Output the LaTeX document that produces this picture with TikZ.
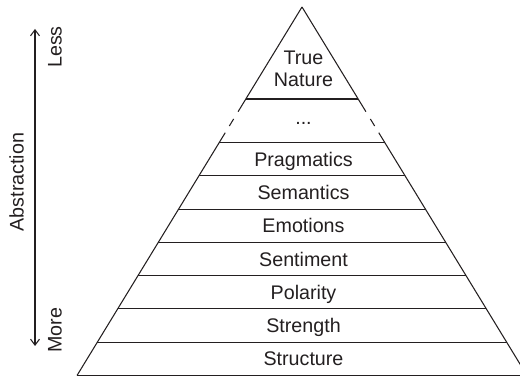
\documentclass[tikz,border=0pt]{standalone}
\usepackage{fontspec}
\setmainfont{Liberation Sans}
\usetikzlibrary{arrows.meta, calc}
\definecolor{inkBlack}{HTML}{231F20}
\def\apexY{7.40}
\def\baseY{0.03}
\def\topY{4.686}
\def\layerH{0.665}
\def\labelX{6.07}
\tikzset{
    edge/.style={draw=inkBlack, line width=0.6pt},
    layerText/.style={font=\fontsize{11.2}{12.5}\selectfont, text=inkBlack, align=center, inner sep=0pt},
    sideText/.style={layerText, rotate=90},
    axisArrow/.style={draw=inkBlack, line width=0.6pt, {Straight Barb[length=1.2mm,width=1.8mm]}-{Straight Barb[length=1.2mm,width=1.8mm]}}
}

\begin{document}
\begin{tikzpicture}
    \clip (0,0) rectangle (10.4,7.54);
    % Pyramid corners
    \coordinate (apex) at (6.04,\apexY);
    \coordinate (bl) at (1.54,\baseY);
    \coordinate (br) at (10.54,\baseY);

    % Sides, broken below the top block
    \foreach \corner in {bl, br} {
        \draw[edge] (apex) -- ($(apex)!0.2841!(\corner)$);
        \draw[edge] ($(apex)!0.3039!(\corner)$) -- ($(apex)!0.3229!(\corner)$);
        \draw[edge] ($(apex)!0.3411!(\corner)$) -- (\corner);
    }
    \draw[edge] (bl) -- (br);

    % Layer boundaries
    \draw[edge] ($(apex)!0.2497!(bl)$) -- ($(apex)!0.2497!(br)$);
    \foreach \k in {0,...,6} {
        \pgfmathsetmacro\t{(\apexY-(\topY-\k*\layerH))/(\apexY-\baseY)}
        \draw[edge] ($(apex)!\t!(bl)$) -- ($(apex)!\t!(br)$);
    }

    % Layer labels
    \node[layerText] (trueNature) at (\labelX,6.17) {True\\Nature};
    \node[layerText, anchor=base] (dots) at (\labelX,5.04) {...};
    \foreach \name [count=\k from 0] in {Pragmatics, Semantics, Emotions, Sentiment, Polarity, Strength, Structure} {
        \node[layerText, anchor=base] (\name) at (\labelX,{\topY-(\k+0.5)*\layerH-0.14}) {\name};
    }

    % Abstraction axis
    \coordinate (lessEnd) at (0.70,6.96);
    \coordinate (moreEnd) at (0.70,0.62);
    \draw[axisArrow] (moreEnd) -- (lessEnd);
    \node[sideText] (less) at (1.10,6.60) {Less};
    \node[sideText] (more) at (1.10,0.94) {More};
    \node[sideText] (abstraction) at (0.33,3.90) {Abstraction};
\end{tikzpicture}
\end{document}
